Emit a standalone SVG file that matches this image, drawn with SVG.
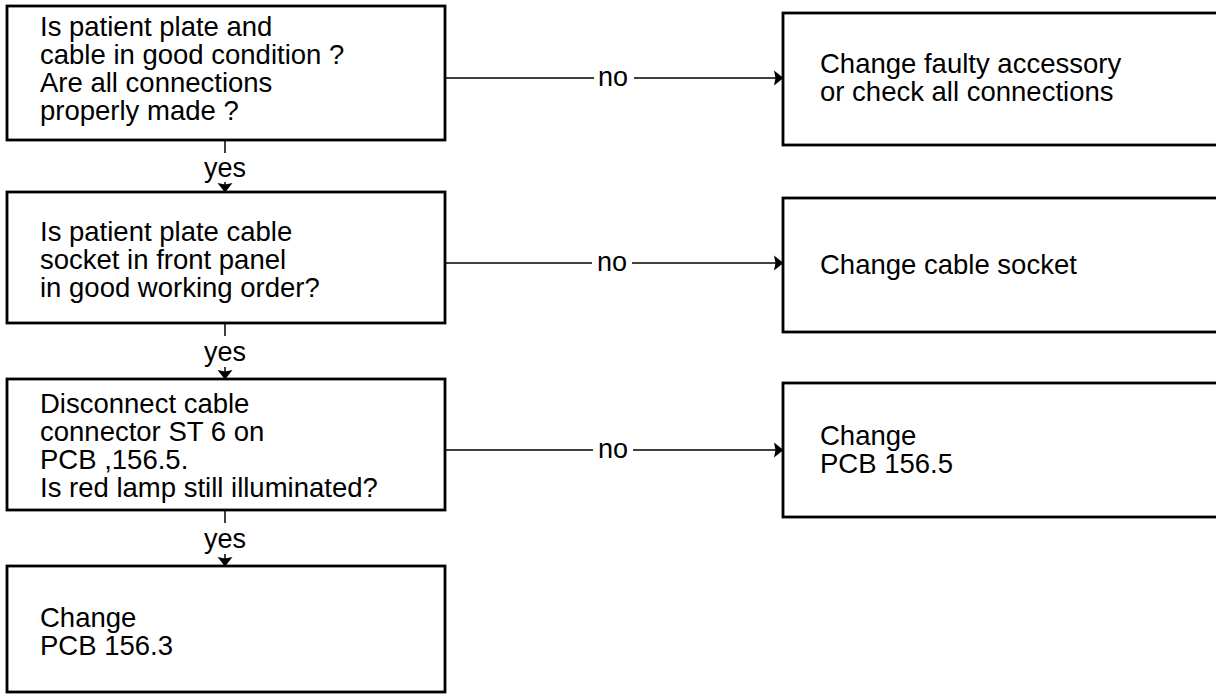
<svg xmlns="http://www.w3.org/2000/svg" width="1216" height="696" viewBox="0 0 1216 696">
  <defs>
    <marker id="arr" viewBox="0 -8 10 16" refX="9" refY="0" markerWidth="10" markerHeight="16" markerUnits="userSpaceOnUse" orient="auto">
      <path d="M0,-7.5 L9.5,0 L0,7.5 L1.5,0 z" fill="#000"/>
    </marker>
    <style>
      .box { fill: #fff; stroke: #000; stroke-width: 2.8; }
      .t { font-family: "Liberation Sans", Arial, Helvetica, sans-serif; font-size: 27.5px; fill: #000; }
      .lbl { font-family: "Liberation Sans", Arial, Helvetica, sans-serif; font-size: 27px; fill: #000; text-anchor: middle; }
      .ln { stroke: #000; stroke-width: 1.5; fill: none; }
    </style>
  </defs>
  <rect width="1216" height="696" fill="#fff"/>

  <g id="connectors">
    <!-- no 1 -->
    <line class="ln" x1="445" y1="78" x2="594" y2="78"/>
    <line class="ln" x1="634" y1="78" x2="783" y2="78" marker-end="url(#arr)"/>
    <text class="lbl" x="613" y="86">no</text>
    <!-- no 2 -->
    <line class="ln" x1="445" y1="263" x2="592" y2="263"/>
    <line class="ln" x1="632" y1="263" x2="783" y2="263" marker-end="url(#arr)"/>
    <text class="lbl" x="612" y="271">no</text>
    <!-- no 3 -->
    <line class="ln" x1="445" y1="450" x2="593" y2="450"/>
    <line class="ln" x1="633" y1="450" x2="783" y2="450" marker-end="url(#arr)"/>
    <text class="lbl" x="613" y="458">no</text>
    <!-- yes 1 -->
    <line class="ln" x1="225" y1="140" x2="225" y2="153"/>
    <text class="lbl" x="225" y="177">yes</text>
    <line class="ln" x1="225" y1="182" x2="225" y2="192" marker-end="url(#arr)"/>
    <!-- yes 2 -->
    <line class="ln" x1="225" y1="323" x2="225" y2="336"/>
    <text class="lbl" x="225" y="361">yes</text>
    <line class="ln" x1="225" y1="367" x2="225" y2="379" marker-end="url(#arr)"/>
    <!-- yes 3 -->
    <line class="ln" x1="225" y1="510" x2="225" y2="523"/>
    <text class="lbl" x="225" y="548">yes</text>
    <line class="ln" x1="225" y1="554" x2="225" y2="566" marker-end="url(#arr)"/>
  </g>

  <g id="q1">
    <rect class="box" x="7" y="6" width="438" height="134"/>
    <text class="t" x="40" y="36">Is patient plate and</text>
    <text class="t" x="40" y="64">cable in good condition ?</text>
    <text class="t" x="40" y="92">Are all connections</text>
    <text class="t" x="40" y="120">properly made ?</text>
  </g>

  <g id="q2">
    <rect class="box" x="7" y="192" width="438" height="131"/>
    <text class="t" x="40" y="241">Is patient plate cable</text>
    <text class="t" x="40" y="269">socket in front panel</text>
    <text class="t" x="40" y="297">in good working order?</text>
  </g>

  <g id="q3">
    <rect class="box" x="7" y="379" width="438" height="131"/>
    <text class="t" x="40" y="413">Disconnect cable</text>
    <text class="t" x="40" y="441">connector ST 6 on</text>
    <text class="t" x="40" y="469">PCB ,156.5.</text>
    <text class="t" x="40" y="497">Is red lamp still illuminated?</text>
  </g>

  <g id="a4">
    <rect class="box" x="7" y="566" width="438" height="126"/>
    <text class="t" x="40" y="627">Change</text>
    <text class="t" x="40" y="655">PCB 156.3</text>
  </g>

  <g id="r1">
    <rect class="box" x="783" y="13" width="450" height="132"/>
    <text class="t" x="820" y="73">Change faulty accessory</text>
    <text class="t" x="820" y="101">or check all connections</text>
  </g>

  <g id="r2">
    <rect class="box" x="783" y="198" width="450" height="134"/>
    <text class="t" x="820" y="274">Change cable socket</text>
  </g>

  <g id="r3">
    <rect class="box" x="783" y="383" width="450" height="134"/>
    <text class="t" x="820" y="445">Change</text>
    <text class="t" x="820" y="473">PCB 156.5</text>
  </g>
</svg>
